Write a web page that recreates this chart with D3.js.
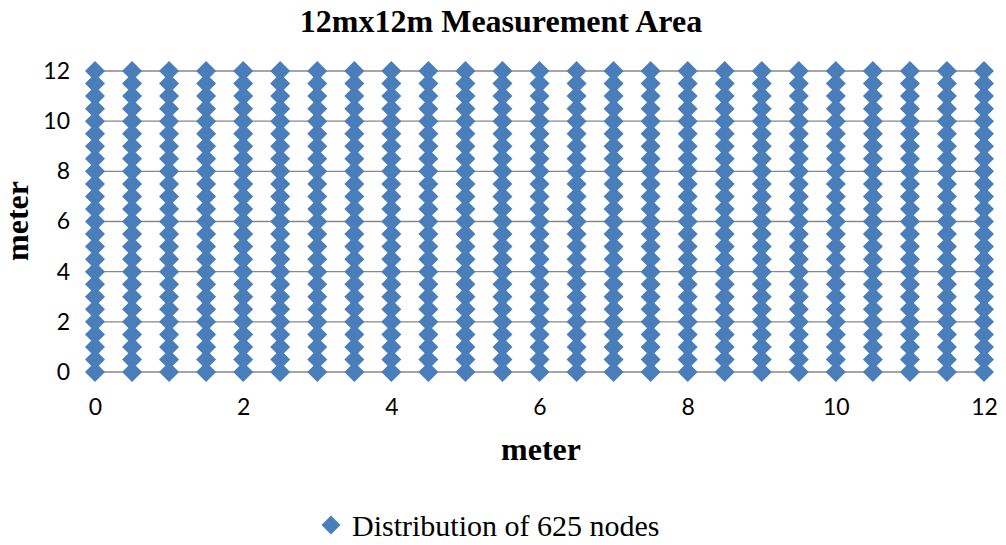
<!DOCTYPE html>
<html><head><meta charset="utf-8">
<script src="https://cdn.jsdelivr.net/npm/d3@7"></script>
<style>body{margin:0;background:#fff}</style>
</head><body>
<svg id="c" width="1006" height="545"></svg>
<script>
const xCoords = [0,0.5,1,1.5,2,2.5,3,3.5,4,4.5,5,5.5,6,6.5,7,7.5,8,8.5,9,9.5,10,10.5,11,11.5,12];
const yCoords = [0,0.5,1,1.5,2,2.5,3,3.5,4,4.5,5,5.5,6,6.5,7,7.5,8,8.5,9,9.5,10,10.5,11,11.5,12];
const xTicks = [0,2,4,6,8,10,12];
const yTicks = [0,2,4,6,8,10,12];
const seriesName = "Distribution of 625 nodes";
const title = "12mx12m Measurement Area";

const points = [];
xCoords.forEach(x => yCoords.forEach(y => points.push({x, y})));

const svg = d3.select("#c");
const x = d3.scaleLinear().domain([0,12]).range([95,984]);
const y = d3.scaleLinear().domain([0,12]).range([372,71]);
const color = "#4A7EBB";

svg.append("g").selectAll("line").data(yTicks).join("line")
  .attr("x1", 95).attr("x2", 984)
  .attr("y1", d => y(d)).attr("y2", d => y(d))
  .attr("stroke", "#878787").attr("stroke-width", 1.3);

const yAxis = svg.append("g").attr("transform", "translate(95,0)")
  .call(d3.axisLeft(y).tickValues(yTicks).tickSize(0).tickPadding(25));
yAxis.select(".domain").remove();
yAxis.attr("font-size", null);
yAxis.selectAll("text").style("font-family", "Lato, 'Open Sans', sans-serif").style("font-size", "23px").attr("fill", "#000");

const xAxis = svg.append("g").attr("transform", "translate(0,372)")
  .call(d3.axisBottom(x).tickValues(xTicks).tickSize(0).tickPadding(27));
xAxis.select(".domain").remove();
xAxis.attr("font-size", null);
xAxis.selectAll("text").style("font-family", "Lato, 'Open Sans', sans-serif").style("font-size", "23px").attr("fill", "#000");

const diamond = d3.symbol().type(d3.symbolDiamond2).size(255);
svg.append("g").selectAll("path").data(points).join("path")
  .attr("d", diamond)
  .attr("transform", d => `translate(${x(d.x)},${y(d.y)})`)
  .attr("fill", color);

svg.append("text").attr("x", 501).attr("y", 32).attr("text-anchor", "middle")
  .style("font-family", "'Liberation Serif', serif").attr("font-weight", "bold").style("font-size", "32px")
  .text(title);
svg.append("text").attr("x", 541).attr("y", 460).attr("text-anchor", "middle")
  .style("font-family", "'Liberation Serif', serif").attr("font-weight", "bold").style("font-size", "32px")
  .text("meter");
svg.append("text").attr("transform", "translate(28,221) rotate(-90)").attr("text-anchor", "middle")
  .style("font-family", "'Liberation Serif', serif").attr("font-weight", "bold").style("font-size", "32px")
  .text("meter");

const lg = svg.append("g");
lg.append("path").attr("d", d3.symbol().type(d3.symbolDiamond2).size(230))
  .attr("transform", "translate(331,525)").attr("fill", color);
lg.append("text").attr("x", 352).attr("y", 536)
  .style("font-family", "'Liberation Serif', serif").style("font-size", "30px").text(seriesName);
</script>
</body></html>
